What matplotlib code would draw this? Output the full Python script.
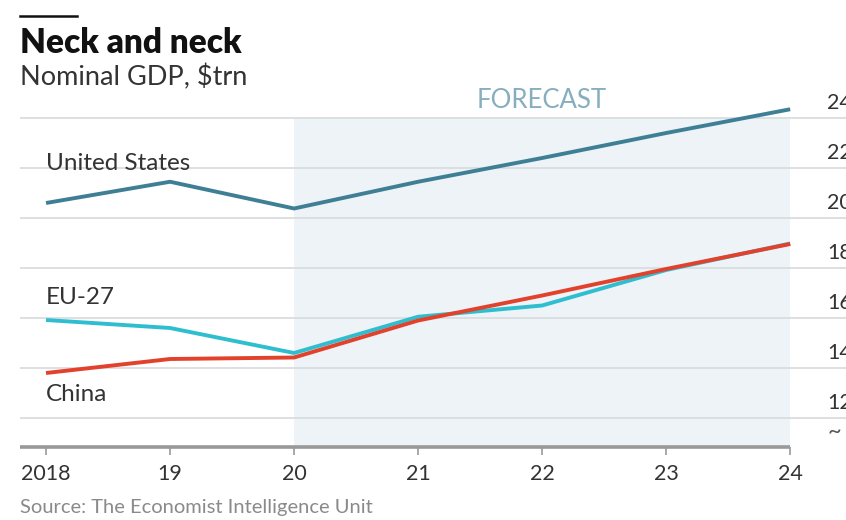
import matplotlib
matplotlib.use("Agg")
import matplotlib.pyplot as plt
from matplotlib.lines import Line2D

plt.rcParams['font.family'] = ['Lato', 'DejaVu Sans']

years = [2018, 2019, 2020, 2021, 2022, 2023, 2024]
year_labels = ["2018", "19", "20", "21", "22", "23", "24"]
us = [20.6, 21.45, 20.38, 21.45, 22.4, 23.4, 24.35]
eu = [15.92, 15.6, 14.6, 16.05, 16.5, 17.92, 18.98]
china = [13.8, 14.36, 14.42, 15.9, 16.9, 17.96, 18.96]
y_ticks = [12, 14, 16, 18, 20, 22, 24]
forecast_start = 2020

US_COL = "#3f7f95"
EU_COL = "#2fbdd0"
CN_COL = "#e2412b"
TEXT_COL = "#333333"
GRID_COL = "#d9dde0"
SHADE_COL = "#edf3f7"

W, H = 846, 520
fig = plt.figure(figsize=(W / 100, H / 100), dpi=100)

# axes box in pixels: x 20..846, y 93..447
ax = fig.add_axes([20 / W, 1 - 447 / H, (846 - 20) / W, (447 - 93) / H])
x0, x1 = 2017.79, 2024.45
y0, y1 = 10.84, 25.0
ax.set_xlim(x0, x1)
ax.set_ylim(y0, y1)

for s in ax.spines.values():
    s.set_visible(False)

# forecast shading
ax.fill_between([forecast_start, years[-1]], y0, y_ticks[-1],
                color=SHADE_COL, lw=0, zorder=0)

# horizontal gridlines
for t in y_ticks:
    ax.axhline(t, color=GRID_COL, lw=1.3, zorder=1)
ax.set_yticks([])
ax.set_xticks(years)
ax.set_xticklabels(year_labels)
ax.tick_params(axis='x', length=6, width=1.2, color="#999999",
               labelsize=15.5, labelcolor=TEXT_COL, pad=6)

# baseline
ax.hlines(y0, x0, years[-1], color="#999999", lw=2.6, clip_on=False, zorder=3)

# right-hand value labels sitting above gridlines
for t in y_ticks:
    ax.text(2024.3, t + 0.2, str(t), ha='left', va='bottom',
            fontsize=15.5, color=TEXT_COL, clip_on=False)
ax.text(2024.3, 11.45, "~", ha='left', va='center', fontsize=17,
        color="#555555", clip_on=False)

# series
ax.plot(years, us, color=US_COL, lw=2.8, zorder=5, solid_capstyle='butt')
ax.plot(years, eu, color=EU_COL, lw=2.8, zorder=5, solid_capstyle='butt')
ax.plot(years, china, color=CN_COL, lw=2.8, zorder=6, solid_capstyle='butt')

# series labels
lab_fs = 17.5
ax.text(2018.0, 22.2, "United States", fontsize=lab_fs, color=TEXT_COL,
        ha='left', va='center')
ax.text(2018.0, 16.8, "EU-27", fontsize=lab_fs, color=TEXT_COL,
        ha='left', va='center')
ax.text(2018.0, 12.95, "China", fontsize=lab_fs, color=TEXT_COL,
        ha='left', va='center')

ax.text(2022, 24.72, "FORECAST", fontsize=18.5, color="#86aebe",
        ha='center', va='center')

# header
fig.add_artist(Line2D([20 / W, 77 / W], [1 - 16 / H, 1 - 16 / H],
                      color="#111111", lw=1.8))
fig.text(20 / W, 1 - 43 / H, "Neck and neck", fontsize=24, fontweight='heavy',
         color="#111111", ha='left', va='center')
fig.text(20 / W, 1 - 77 / H, "Nominal GDP, $trn", fontsize=19.5,
         color=TEXT_COL, ha='left', va='center')
fig.text(20 / W, 1 - 508 / H, "Source: The Economist Intelligence Unit",
         fontsize=14.5, color="#8a8a8a", ha='left', va='center')

fig.savefig("out.png", dpi=100)
